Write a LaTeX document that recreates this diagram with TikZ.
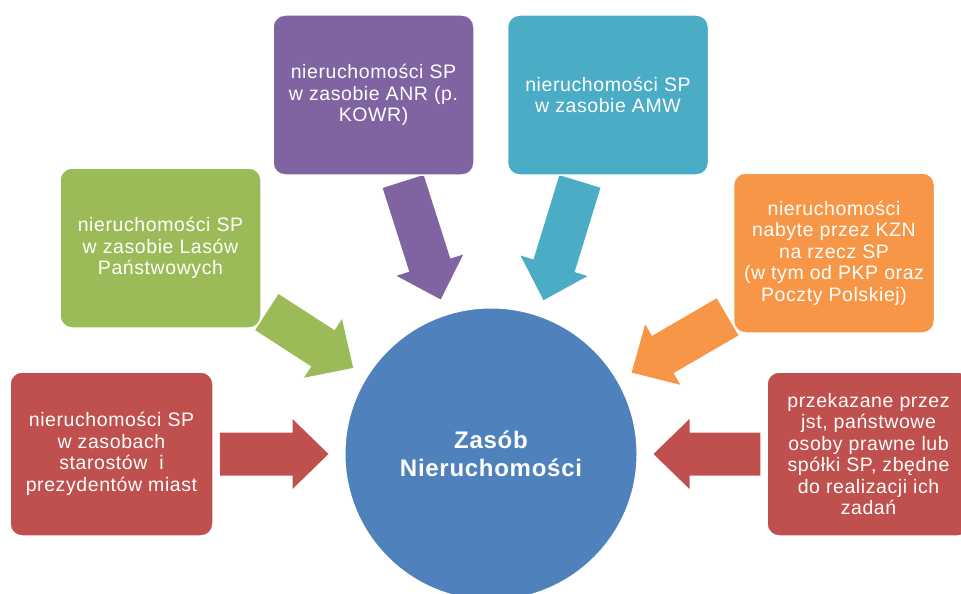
\documentclass[tikz,border=0pt]{standalone}
\usepackage{fontspec}
\setmainfont{Liberation Sans}
\usetikzlibrary{calc}
\definecolor{zred}{HTML}{C0504D}
\definecolor{zgreen}{HTML}{9BBB59}
\definecolor{zpurple}{HTML}{8064A2}
\definecolor{zaqua}{HTML}{4BACC6}
\definecolor{zorange}{HTML}{F79646}
\definecolor{zblue}{HTML}{4F81BD}
\pgfdeclarelayer{bg}
\pgfsetlayers{bg,main}
\tikzset{
  box/.style={rectangle, rounded corners=12pt, minimum width=201pt, minimum height=160pt,
    draw=white, line width=1.5pt, text=white, align=center, inner sep=0pt,
    font=\fontsize{19.5}{21.5}\selectfont\addfontfeature{LetterSpace=3}},
  hub/.style={circle, minimum size=292pt, fill=zblue, draw=white, line width=1pt,
    text=white, align=center, inner sep=0pt,
    font=\fontsize{24}{28}\selectfont\bfseries\addfontfeature{LetterSpace=3}}
}
% block arrow from a box towards the hub
\newcommand{\inarrow}[2]{%
  \path let \p1=(#1), \p2=(zasob), \n1={atan2(\y2-\y1,\x2-\x1)}, \n2={\n1+180} in
    coordinate (t) at ($(#1.\n1)!6pt!(zasob)$)
    coordinate (p) at ($(zasob.\n2)!16pt!(#1)$);
  \path coordinate (b) at ($(p)!36pt!(t)$);
  \fill[#2] ($(t)!21.5pt!90:(p)$) -- ($(b)!21.5pt!-90:(t)$) -- ($(b)!35pt!-90:(t)$)
    -- (p) -- ($(b)!35pt!90:(t)$) -- ($(b)!21.5pt!90:(t)$) -- ($(t)!21.5pt!-90:(p)$) -- cycle;
}
\begin{document}
\begin{tikzpicture}[x=1pt,y=-1pt]
\useasboundingbox (0,0) rectangle (961,594);
\clip (0,0) rectangle (961,594);
\node[hub] (zasob) at (491,454) {Zasób\\Nieruchomości};
\node[box, fill=zred, minimum width=203pt, minimum height=164pt] (starosci) at (111.5,454)
  {nieruchomości SP\\w zasobach\\starostów\ \ i\\prezydentów miast};
\node[box, fill=zgreen] (lasy) at (160.5,248) {nieruchomości SP\\w zasobie Lasów\\Państwowych};
\node[box, fill=zpurple] (anr) at (373.5,95) {nieruchomości SP\\w zasobie ANR (p.\\KOWR)};
\node[box, fill=zaqua] (amw) at (608,95) {nieruchomości SP\\w zasobie AMW};
\node[box, fill=zorange] (kzn) at (834,253)
  {nieruchomości\\nabyte przez KZN\\na rzecz SP\\(w tym od PKP oraz\\Poczty Polskiej)};
\node[box, fill=zred, minimum width=203pt, minimum height=164pt] (jst) at (868.5,454)
  {przekazane przez\\jst, państwowe\\osoby prawne lub\\spółki SP, zbędne\\do realizacji ich\\zadań};
\begin{pgfonlayer}{bg}
\inarrow{starosci}{zred}
\inarrow{lasy}{zgreen}
\inarrow{anr}{zpurple}
\inarrow{amw}{zaqua}
\inarrow{kzn}{zorange}
\inarrow{jst}{zred}
\end{pgfonlayer}
\end{tikzpicture}
\end{document}
